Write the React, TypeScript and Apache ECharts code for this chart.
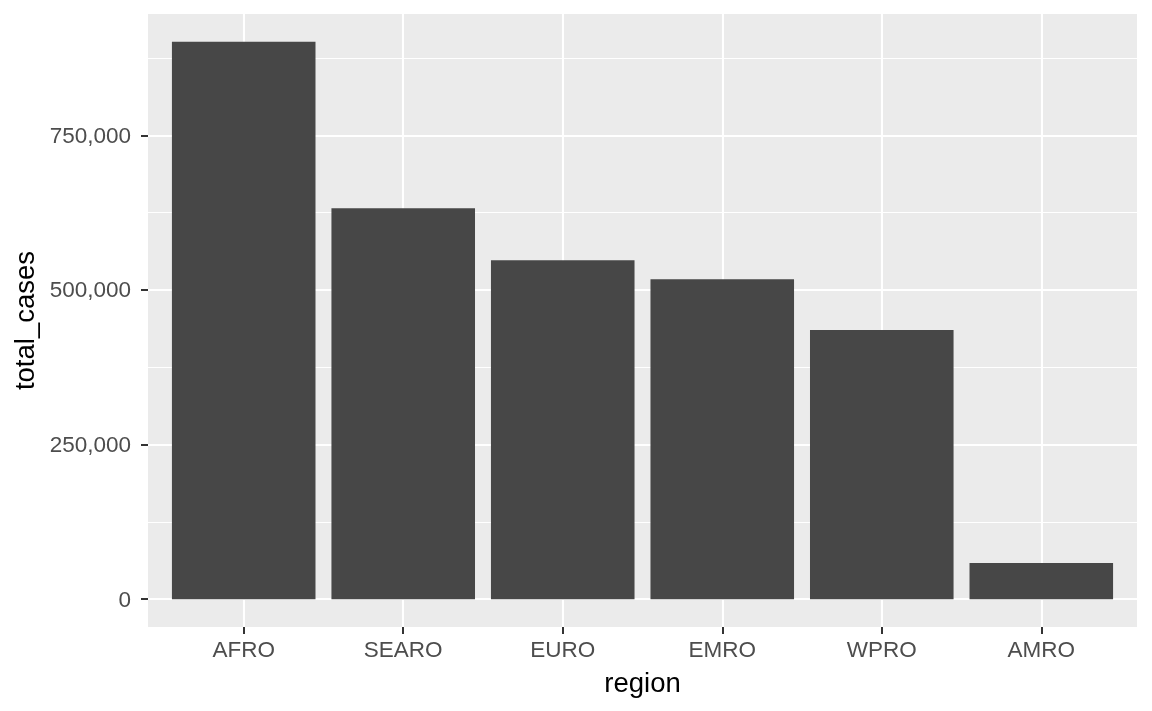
import React, { useEffect, useRef } from "react";
import * as echarts from "echarts";

const regions = ["AFRO", "SEARO", "EURO", "EMRO", "WPRO", "AMRO"];
const totalCases = [901000, 632000, 548000, 517000, 435000, 58300];
const yTickValues = [0, 250000, 500000, 750000];
const xTickValues = regions.map((_, i) => i);

const FONT = "'Liberation Sans', Arial, Helvetica, sans-serif";

export default function App() {
  const ref = useRef<HTMLDivElement>(null);

  useEffect(() => {
    const chart = echarts.init(ref.current!, null, { renderer: "svg" });
    const maxV = Math.max(...totalCases);
    const pad = maxV * 0.05;
    const n = regions.length;

    chart.setOption({
      animation: false,
      textStyle: { fontFamily: FONT },
      grid: {
        left: 148,
        right: 15,
        top: 14,
        bottom: 84,
        show: true,
        backgroundColor: "#EBEBEB",
        borderWidth: 0,
        containLabel: false,
      },
      xAxis: {
        type: "value",
        min: -0.6,
        max: n - 1 + 0.6,
        minInterval: 1,
        maxInterval: 1,
        name: "region",
        nameLocation: "middle",
        nameGap: 41,
        nameTextStyle: { fontSize: 27.5, color: "#000000", fontFamily: FONT },
        axisLine: { show: false, onZero: false },
        axisTick: {
          show: true,
          length: 7,
          customValues: xTickValues,
          lineStyle: { color: "#333333", width: 2 },
        },
        axisLabel: {
          customValues: xTickValues,
          margin: 11,
          fontSize: 22.5,
          color: "#4D4D4D",
          fontFamily: FONT,
          formatter: (v: number) =>
            Number.isInteger(v) && v >= 0 && v < n ? regions[v] : "",
        },
        splitLine: { show: true, lineStyle: { color: "#FFFFFF", width: 2.1 } },
      },
      yAxis: {
        type: "value",
        min: -pad,
        max: maxV + pad,
        minInterval: 250000,
        maxInterval: 250000,
        name: "total_cases",
        nameLocation: "middle",
        nameGap: 106,
        nameTextStyle: { fontSize: 27.5, color: "#000000", fontFamily: FONT },
        axisLine: { show: false, onZero: false },
        axisTick: {
          show: true,
          length: 7,
          customValues: yTickValues,
          lineStyle: { color: "#333333", width: 2 },
        },
        axisLabel: {
          customValues: yTickValues,
          margin: 17,
          fontSize: 22.5,
          color: "#4D4D4D",
          fontFamily: FONT,
          formatter: (v: number) =>
            yTickValues.includes(v) ? v.toLocaleString("en-US") : "",
        },
        splitLine: { show: true, lineStyle: { color: "#FFFFFF", width: 2.1 } },
        minorTick: { show: false, splitNumber: 2 },
        minorSplitLine: { show: true, lineStyle: { color: "#FFFFFF", width: 1.1 } },
      },
      series: [
        {
          type: "bar",
          data: totalCases.map((v, i) => [i, v]),
          barWidth: "90%",
          itemStyle: { color: "#474747" },
          clip: false,
        },
      ],
    });

    return () => chart.dispose();
  }, []);

  return (
    <div
      ref={ref}
      style={{ position: "fixed", left: 0, top: 0, width: 1152, height: 711 }}
    />
  );
}
